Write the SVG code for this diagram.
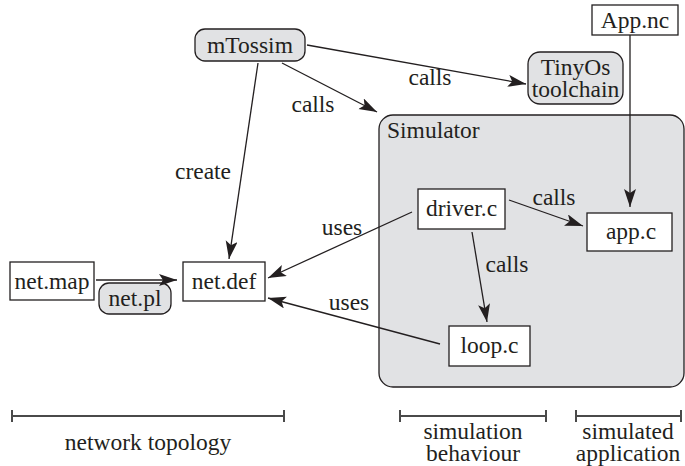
<svg xmlns="http://www.w3.org/2000/svg" width="685" height="466" viewBox="0 0 685 466">
<style>
text{font-family:"Liberation Serif","Times New Roman",serif;font-size:23.5px;fill:#231f20}
.c{text-anchor:middle}
.box{fill:#fff;stroke:#231f20;stroke-width:1.3}
.rbox{fill:#e1e2e4;stroke:#231f20;stroke-width:1.3}
.edge{stroke:#231f20;stroke-width:1.3;fill:none}
.bar{stroke:#4a4a4a;stroke-width:2;fill:none}
</style>
<defs>
<marker id="ah" markerUnits="userSpaceOnUse" markerWidth="20" markerHeight="14" refX="18" refY="6" orient="auto">
<path d="M0,0 L18,6 L0,12 L4,6 Z" fill="#231f20"/>
</marker>
</defs>
<g id="simulator">
<rect x="379" y="115" width="305" height="272" rx="14" class="rbox"/>
<text x="387" y="138">Simulator</text>
</g>
<g id="mTossim">
<rect x="195" y="29" width="110" height="32" rx="10" class="rbox"/>
<text x="250" y="53" class="c">mTossim</text>
</g>
<g id="appnc">
<rect x="592" y="5" width="86" height="30" class="box"/>
<text x="635" y="28" class="c">App.nc</text>
</g>
<g id="tinyos">
<rect x="528" y="52" width="95" height="52" rx="12" class="rbox"/>
<text x="575.5" y="75" class="c">TinyOs</text>
<text x="575.5" y="97" class="c">toolchain</text>
</g>
<g id="driver">
<rect x="418" y="189" width="87" height="40" class="box"/>
<text x="461.5" y="216" class="c">driver.c</text>
</g>
<g id="appc">
<rect x="587" y="213" width="85" height="38" class="box"/>
<text x="631" y="239" class="c">app.c</text>
</g>
<g id="loop">
<rect x="449" y="326" width="81" height="40" class="box"/>
<text x="489.5" y="353" class="c">loop.c</text>
</g>
<g id="netdef">
<rect x="183" y="262" width="82" height="39" class="box"/>
<text x="224" y="289" class="c">net.def</text>
</g>
<g id="netmap">
<rect x="10" y="262" width="84" height="38" class="box"/>
<text x="52" y="289" class="c">net.map</text>
</g>
<g id="netpl">
<rect x="99" y="283" width="72" height="31" rx="10" class="rbox"/>
<text x="135" y="306" class="c">net.pl</text>
</g>
<g id="connectors">
<line x1="307" y1="45" x2="526" y2="84" class="edge" marker-end="url(#ah)"/>
<text x="430" y="85" class="c">calls</text>
<line x1="282" y1="63" x2="377" y2="112" class="edge" marker-end="url(#ah)"/>
<text x="313" y="112" class="c">calls</text>
<line x1="258" y1="63" x2="229" y2="259" class="edge" marker-end="url(#ah)"/>
<text x="203" y="179" class="c">create</text>
<line x1="630" y1="35" x2="630" y2="207" class="edge" marker-end="url(#ah)"/>
<line x1="509" y1="200" x2="583" y2="226" class="edge" marker-end="url(#ah)"/>
<text x="554" y="205" class="c">calls</text>
<line x1="472" y1="232" x2="487" y2="322" class="edge" marker-end="url(#ah)"/>
<text x="507" y="272" class="c">calls</text>
<line x1="412" y1="212" x2="268" y2="278" class="edge" marker-end="url(#ah)"/>
<text x="342" y="235" class="c">uses</text>
<line x1="440" y1="344" x2="268" y2="298" class="edge" marker-end="url(#ah)"/>
<text x="349" y="310" class="c">uses</text>
<line x1="96" y1="280" x2="177" y2="280" class="edge" marker-end="url(#ah)"/>
</g>
<g id="scales">
<path d="M12,416 H284 M12,410 V422 M284,410 V422" class="bar"/>
<text x="148" y="450" class="c">network topology</text>
<path d="M400,416 H546 M400,410 V422 M546,410 V422" class="bar"/>
<text x="473" y="439" class="c">simulation</text>
<text x="473" y="461" class="c">behaviour</text>
<path d="M576,416 H681 M576,410 V422 M681,410 V422" class="bar"/>
<text x="628" y="439" class="c">simulated</text>
<text x="628" y="461" class="c">application</text>
</g>
</svg>
